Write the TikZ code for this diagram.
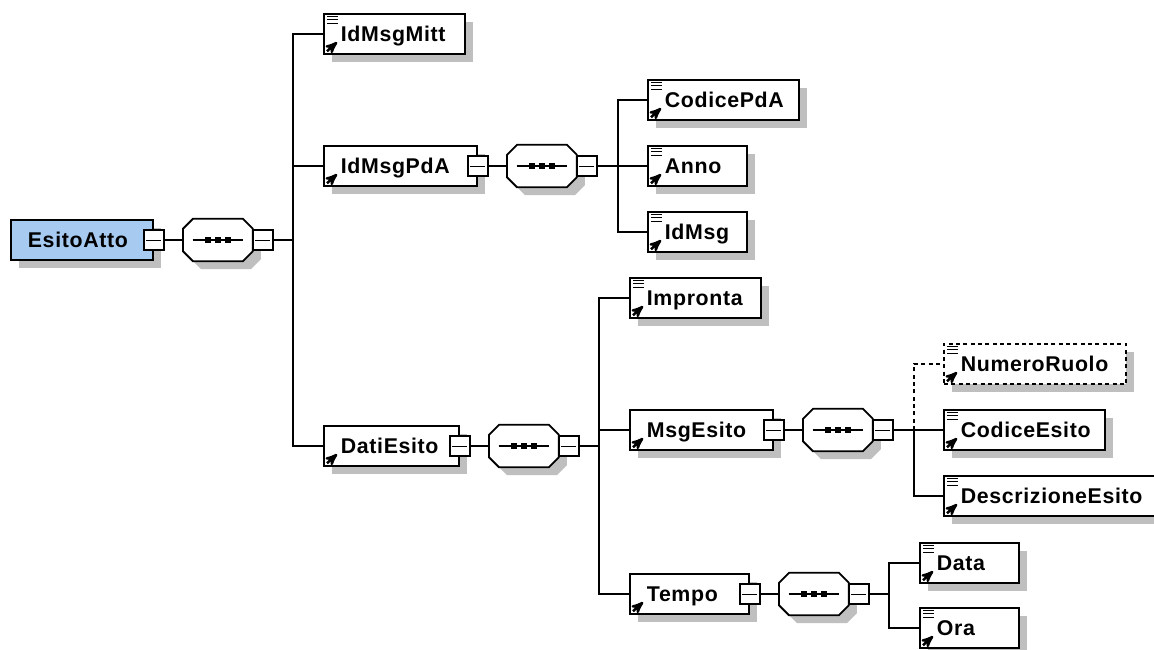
\documentclass[tikz,border=0pt]{standalone}
\usepackage{fontspec}
\setmainfont{Liberation Sans}
\usetikzlibrary{arrows,shadows}

% px -> pt is 0.75 all over
\tikzset{
  boxshadow/.style = {
    general shadow = {fill = black!25, shadow xshift = 6.2pt, shadow yshift = -6pt}
  },
  elem/.style = {
    draw,
    fill = white,
    rectangle,
    anchor = west,
    inner sep = 0pt,
    minimum height = 30.5pt,
    boxshadow
  },
  elemtext/.style = {
    anchor = base west,
    inner sep = 0pt,
    font = \fontsize{16pt}{17pt}\selectfont\bfseries\addfontfeatures{LetterSpace=3}
  },
  seqbox/.style = {
    rectangle,
    anchor = west,
    inner sep = 0pt,
    minimum width = 51pt,
    minimum height = 30.5pt
  },
  minusbox/.style = {
    draw,
    fill = white,
    rectangle,
    inner sep = 0pt,
    minimum size = 15pt
  }
}

% name, left x, middle y, width, text
\newcommand{\elembox}[6][]{
  \draw (#3,#4) node[elem,minimum width=#5*0.75pt,#1] (#2) {};
  \draw ([shift={(12.75pt,-5.5pt)}]#2.west) node[elemtext] (#2text) {#6};
  \draw[-stealth',line width=1.9pt] ([shift={(4,-4)}]#2.south west) -- ([shift={(14,-13)}]#2.south west);
}
\newcommand{\elemlines}[1]{
  \foreach \yy in {3.5,7,10.5}
    \draw[line width=0.8pt] ([shift={(4,\yy)}]#1.north west) -- ([shift={(15,\yy)}]#1.north west);
}
\newcommand{\minusmark}[2]{
  \draw[line width=1.2pt] (#1) node[minusbox] (#2) {};
  \draw[line width=0.7pt] ([xshift=2.5pt]#2.west) -- ([xshift=-2.5pt]#2.east);
}
% outline with cut corners round a node, moved by dx and dy
\newcommand{\octpath}[3]{
  ([shift={(10+#2,#3)}]#1.north west) -- ([shift={(-10+#2,#3)}]#1.north east)
  -- ([shift={(#2,10+#3)}]#1.north east) -- ([shift={(#2,-10+#3)}]#1.south east)
  -- ([shift={(-10+#2,#3)}]#1.south east) -- ([shift={(10+#2,#3)}]#1.south west)
  -- ([shift={(#2,-10+#3)}]#1.south west) -- ([shift={(#2,10+#3)}]#1.north west) -- cycle
}
% name, left x, middle y
\newcommand{\seqnode}[3]{
  \path (#2,#3) node[seqbox] (#1) {};
  \fill[black!25] \octpath{#1}{8}{8};
  \draw[fill=white] \octpath{#1}{0}{0};
  \draw ([xshift=-19pt]#1.center) -- ([xshift=19pt]#1.center);
  \foreach \dd in {-10,0,10}
    \fill ([xshift=\dd*0.75pt]#1.center) +(-3,-3) rectangle +(3,3);
  \minusmark{[xshift=7.5pt]#1.east}{#1sq}
}

\begin{document}
\begin{tikzpicture}[x=0.75pt,y=-0.75pt,line width=1.35pt]
  \clip (0,0) rectangle (1154,650);
  \fill[white] (0,0) rectangle (1154,650);

  % bus lines first
  \coordinate (busRoot) at (293,240);
  \coordinate (busPdA) at (618,166);
  \coordinate (busDati) at (599,446);
  \coordinate (busMsg) at (914,430);
  \coordinate (busTempo) at (889,594);

  % root
  \draw (10,240) node[elem,fill={rgb,255:red,166;green,202;blue,240},minimum width=106.5pt] (EsitoAtto) {};
  \draw ([shift={(12.75pt,-5.5pt)}]EsitoAtto.west) node[elemtext] (EsitoAttotext) {EsitoAtto};
  \minusmark{EsitoAtto.east}{EsitoAttosq}
  \seqnode{seqRoot}{183}{240}

  % first level
  \elembox{IdMsgMitt}{323}{34}{141}{IdMsgMitt}
  \elemlines{IdMsgMitt}
  \elembox{IdMsgPdA}{323}{166}{153}{IdMsgPdA}
  \minusmark{IdMsgPdA.east}{IdMsgPdAsq}
  \seqnode{seqPdA}{507}{166}
  \elembox{DatiEsito}{323}{446}{135}{DatiEsito}
  \minusmark{DatiEsito.east}{DatiEsitosq}
  \seqnode{seqDati}{489}{446}

  % IdMsgPdA children
  \elembox{CodicePdA}{647}{100}{151}{CodicePdA}
  \elemlines{CodicePdA}
  \elembox{Anno}{647}{166}{99}{Anno}
  \elemlines{Anno}
  \elembox{IdMsg}{647}{232}{99}{IdMsg}
  \elemlines{IdMsg}

  % DatiEsito children
  \elembox{Impronta}{629}{298}{131}{Impronta}
  \elemlines{Impronta}
  \elembox{MsgEsito}{629}{430}{143}{MsgEsito}
  \minusmark{MsgEsito.east}{MsgEsitosq}
  \seqnode{seqMsg}{803}{430}
  \elembox{Tempo}{629}{594}{119}{Tempo}
  \minusmark{Tempo.east}{Temposq}
  \seqnode{seqTempo}{779}{594}

  % MsgEsito children
  \elembox[dash pattern=on 3pt off 2.5pt]{NumeroRuolo}{943}{364}{182}{NumeroRuolo}
  \elemlines{NumeroRuolo}
  \elembox{CodiceEsito}{943}{430}{161}{CodiceEsito}
  \elemlines{CodiceEsito}
  \elembox{DescrizioneEsito}{943}{496}{225}{DescrizioneEsito}
  \elemlines{DescrizioneEsito}

  % Tempo children
  \elembox{Data}{919}{563}{99}{Data}
  \elemlines{Data}
  \elembox{Ora}{919}{628}{99}{Ora}
  \elemlines{Ora}

  % connectors
  \draw (EsitoAttosq) -- (seqRoot);
  \draw (seqRootsq) -- (busRoot);
  \draw (busRoot) |- (IdMsgMitt);
  \draw (busRoot) |- (IdMsgPdA);
  \draw (busRoot) |- (DatiEsito);

  \draw (IdMsgPdAsq) -- (seqPdA);
  \draw (seqPdAsq) -- (busPdA);
  \draw (busPdA) |- (CodicePdA);
  \draw (busPdA) |- (Anno);
  \draw (busPdA) |- (IdMsg);

  \draw (DatiEsitosq) -- (seqDati);
  \draw (seqDatisq) -- (busDati);
  \draw (busDati) |- (Impronta);
  \draw (busDati) |- (MsgEsito);
  \draw (busDati) |- (Tempo);

  \draw (MsgEsitosq) -- (seqMsg);
  \draw (seqMsgsq) -- (busMsg);
  \draw[dash pattern=on 3pt off 2.5pt] (busMsg) |- (NumeroRuolo);
  \draw (busMsg) -- (CodiceEsito);
  \draw (busMsg) |- (DescrizioneEsito);

  \draw (Temposq) -- (seqTempo);
  \draw (seqTemposq) -- (busTempo);
  \draw (busTempo) |- (Data);
  \draw (busTempo) |- (Ora);
\end{tikzpicture}
\end{document}
